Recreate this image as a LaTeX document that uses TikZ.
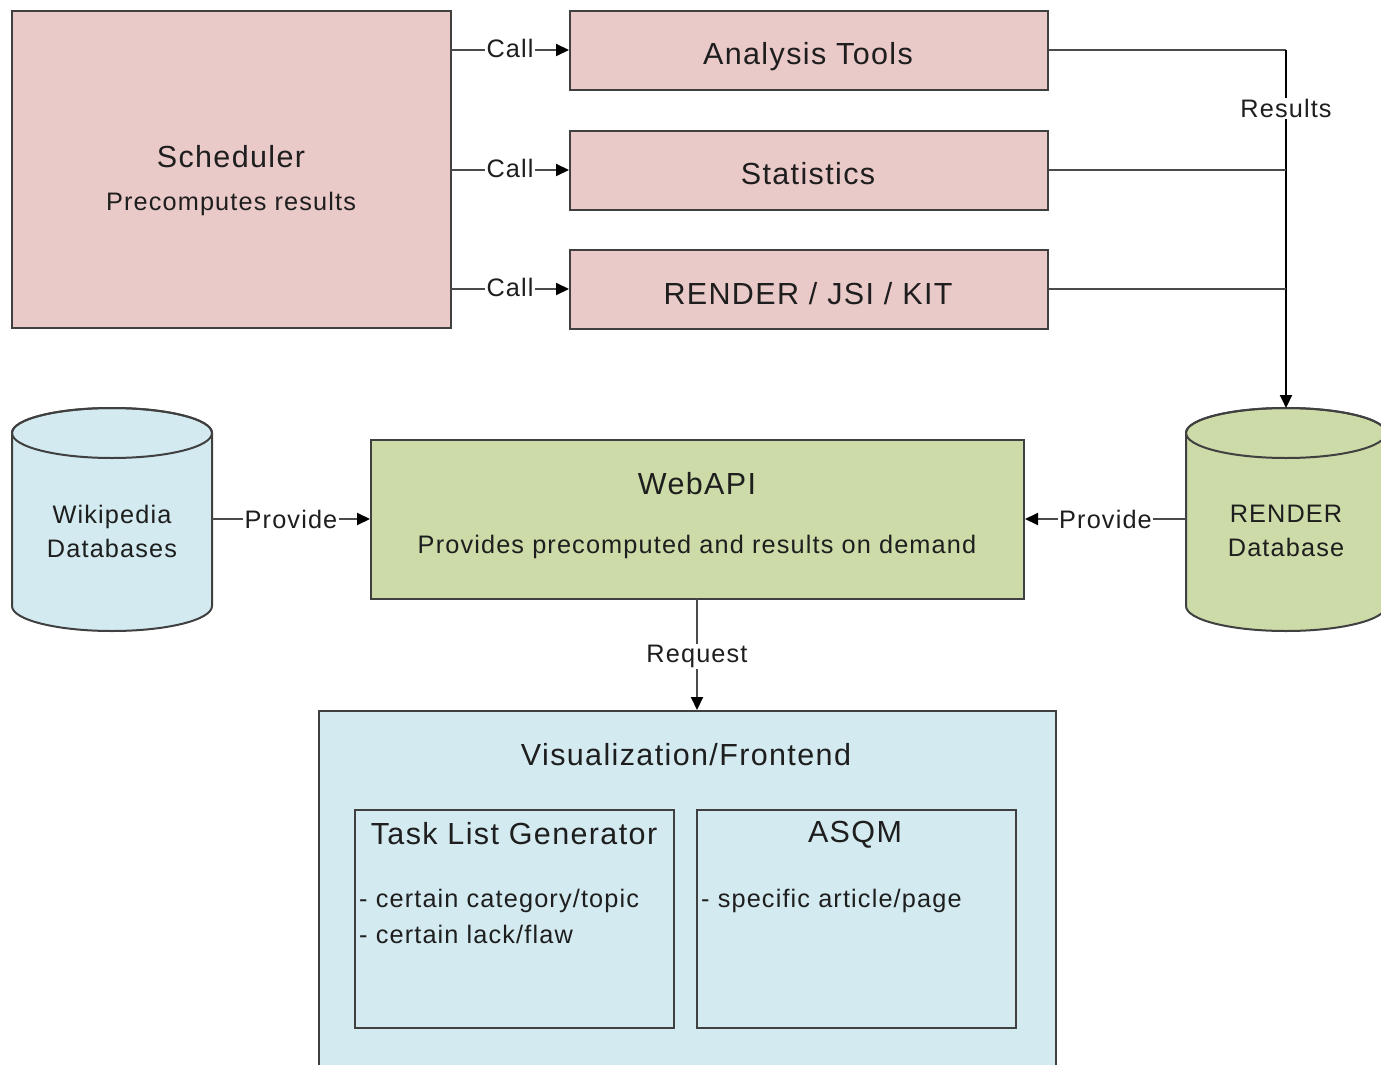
\documentclass[tikz,border=0pt]{standalone}
\usepackage{fontspec}
\setmainfont[LetterSpace=4.5]{Liberation Sans}
\usetikzlibrary{arrows.meta,calc}
\definecolor{pinkfill}{RGB}{234,201,201}
\definecolor{greenfill}{RGB}{204,219,167}
\definecolor{bluefill}{RGB}{211,234,240}
\definecolor{bordercol}{RGB}{64,64,64}
\definecolor{linecol}{RGB}{75,75,75}
\definecolor{textcol}{RGB}{30,30,30}
\tikzset{
  box/.style={draw=bordercol, line width=2pt, inner sep=0pt},
  pinkbox/.style={box, fill=pinkfill},
  greenbox/.style={box, fill=greenfill},
  bluebox/.style={box, fill=bluefill},
  bigtxt/.style={text=textcol, font=\fontsize{30.5}{36}\selectfont, inner sep=0pt},
  smalltxt/.style={text=textcol, font=\fontsize{25.3}{34}\selectfont, inner sep=0pt},
  conn/.style={draw=linecol, line width=2pt},
  arr/.style={conn, -{Triangle[length=13pt,width=12pt,color=black]}},
  lbl/.style={smalltxt, fill=white, inner sep=1.5pt},
  ghost/.style={inner sep=0pt, outer sep=0pt},
  cyl/.style={draw=bordercol, line width=2pt}
}
\begin{document}
\begin{tikzpicture}[x=1pt,y=-1pt]
\useasboundingbox (0,0) rectangle (1381,1065);
% Scheduler
\node[pinkbox, minimum width=439pt, minimum height=317pt] (sched) at (231.5,169.5) {};
\node[bigtxt] (schedt) at (231,157) {Scheduler};
\node[smalltxt] (scheds) at (231,204) {Precomputes results};
% Tools
\node[pinkbox, minimum width=478pt, minimum height=79pt] (an) at (809,50.5) {};
\node[bigtxt] (ant) at (808,57) {Analysis Tools};
\node[pinkbox, minimum width=478pt, minimum height=79pt] (st) at (809,170) {};
\node[bigtxt] (stt) at (808,174) {Statistics};
\node[pinkbox, minimum width=478pt, minimum height=79pt] (rk) at (809,289) {};
\node[bigtxt] (rkt) at (808,294) {RENDER / JSI / KIT};
% Call arrows
\coordinate (c1) at (451,50);
\coordinate (c2) at (451,170);
\coordinate (c3) at (451,289);
\draw[arr] (c1) -- node[lbl, yshift=2pt] {Call} (c1 -| an.west);
\draw[arr] (c2) -- node[lbl, yshift=2pt] {Call} (c2 -| st.west);
\draw[arr] (c3) -- node[lbl, yshift=2pt] {Call} (c3 -| rk.west);
% Wikipedia cylinder
\node[ghost, minimum width=200pt, minimum height=224pt] (wiki) at (112,520) {};
\filldraw[cyl, fill=bluefill]
  (12,433) -- (12,606) arc[start angle=180, end angle=0, x radius=100, y radius=25]
  -- (212,433) arc[start angle=0, end angle=-180, x radius=100, y radius=25] -- cycle;
\draw[cyl] (112,433) ellipse[x radius=100, y radius=25];
\node[smalltxt, align=center] (wikit) at (112,531) {Wikipedia\\Databases};
% RENDER cylinder
\node[ghost, minimum width=200pt, minimum height=224pt] (rdb) at (1286,520) {};
\filldraw[cyl, fill=greenfill]
  (1186,433) -- (1186,606) arc[start angle=180, end angle=0, x radius=100, y radius=25]
  -- (1386,433) arc[start angle=0, end angle=-180, x radius=100, y radius=25] -- cycle;
\draw[cyl] (1286,433) ellipse[x radius=100, y radius=25];
\node[smalltxt, align=center] (rdbt) at (1286,531) {RENDER\\Database};
% Results lines
\draw[conn] (an.east) -- (an.east -| rdb.north);
\draw[arr, draw=black] (an.east -| rdb.north) -- node[lbl, pos=0.162] {Results} (rdb.north);
\draw[conn] (st.east) -- (st.east -| rdb.north);
\draw[conn] (rk.east) -- (rk.east -| rdb.north);
% WebAPI
\node[greenbox, minimum width=653pt, minimum height=159pt] (web) at (697.5,519.5) {};
\node[bigtxt] (webt) at (697,484) {WebAPI};
\node[smalltxt] (webs) at (697,547) {Provides precomputed and results on demand};
\coordinate (pw) at (212,519);
\coordinate (pr) at (1186,519);
\draw[arr] (pw) -- node[lbl] {Provide} (pw -| web.west);
\draw[arr] (pr) -- node[lbl] {Provide} (pr -| web.east);
% Frontend
\node[bluebox, minimum width=737pt, minimum height=380pt] (fe) at (687.5,901) {};
\node[bigtxt] (fet) at (686,755) {Visualization/Frontend};
\coordinate (rq) at (697,599);
\draw[arr] (rq) -- node[lbl, yshift=-2pt] {Request} (rq |- fe.north);
% Task List Generator
\node[bluebox, minimum width=319pt, minimum height=218pt] (tlg) at (514.5,919) {};
\node[bigtxt] (tlgt) at (514,834) {Task List Generator};
\node[smalltxt, anchor=west] (tlg1) at (359,901) {- certain category/topic};
\node[smalltxt, anchor=west] (tlg2) at (359,934) {- certain lack/flaw};
% ASQM
\node[bluebox, minimum width=319pt, minimum height=218pt] (asqm) at (856.5,919) {};
\node[bigtxt] (asqmt) at (855,835) {ASQM};
\node[smalltxt, anchor=west] (asqm1) at (701,901) {- specific article/page};
\end{tikzpicture}
\end{document}
